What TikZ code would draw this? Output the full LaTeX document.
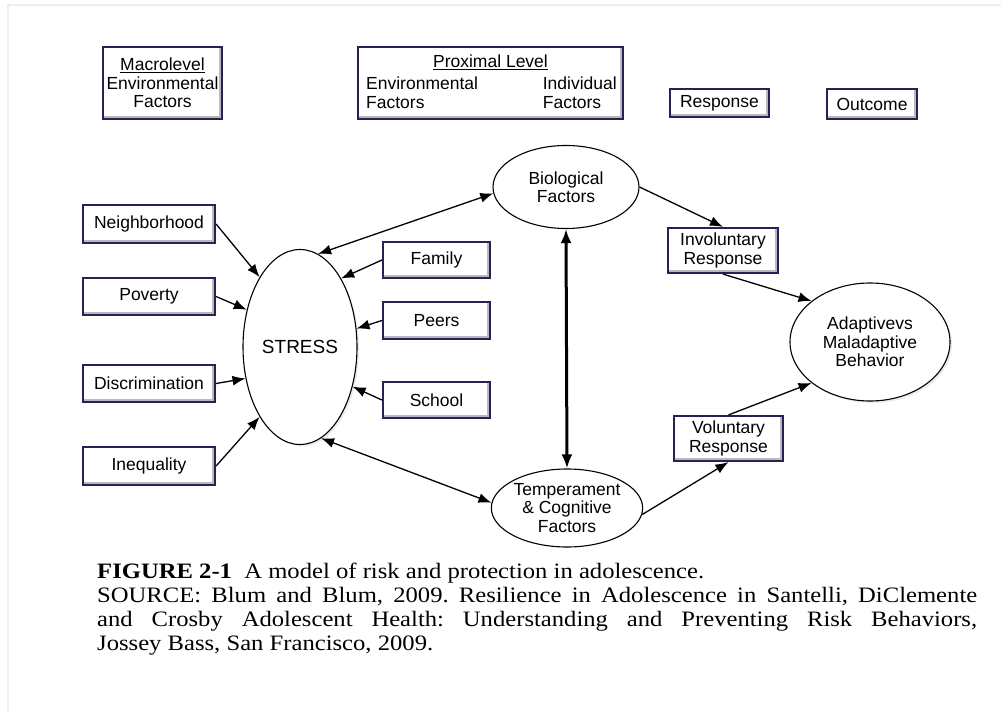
\documentclass[tikz,border=0pt]{standalone}
\usepackage{fontspec}
\setmainfont[FakeStretch=1.12]{Liberation Serif}
\newfontfamily\diagfont{Liberation Sans}
\usetikzlibrary{arrows.meta,shapes.geometric,shadows}

\definecolor{boxnavy}{RGB}{35,35,85}
\definecolor{bevelgray}{RGB}{185,185,185}
\definecolor{framegray}{RGB}{238,238,238}

\tikzset{
  boxtext/.style={inner sep=0pt, font=\diagfont\fontsize{17.5}{19.5}\selectfont},
  factorbox/.style={draw=boxnavy, line width=2.2pt, fill=white, inner sep=0pt, align=center,
    font=\diagfont\fontsize{17.5}{18.5}\selectfont,
    path picture={\draw[bevelgray, line width=6pt]
      (path picture bounding box.south west) -- (path picture bounding box.south east)
      -- (path picture bounding box.north east);}},
  factoroval/.style={ellipse, draw=black, line width=1.1pt, fill=white, inner sep=0pt, align=center,
    font=\diagfont\fontsize{17.5}{18.5}\selectfont},
  softshadow/.style={drop shadow={opacity=0.15, shadow xshift=2pt, shadow yshift=-2pt}},
  link/.style={line width=1.3pt, -{Latex[length=13pt,width=10pt]}},
  bilink/.style={line width=1.3pt, {Latex[length=13pt,width=10pt]}-{Latex[length=13pt,width=10pt]}},
  heavylink/.style={line width=3pt, {Latex[length=14pt,width=11pt]}-{Latex[length=14pt,width=11pt]}},
}

\begin{document}
\begin{tikzpicture}[x=1pt,y=-1pt]

  % Page size of the reference
  \useasboundingbox (0,0) rectangle (1001,711);

  % Faint frame along the top and left edge
  \draw[framegray, line width=1.5pt] (8,711) -- (8,5) -- (1001,5);

  % Column headings
  \node[factorbox, minimum width=119pt, minimum height=72pt] (macro) at (162.5,83)
    {\underline{Macrolevel}\\Environmental\\Factors};
  \node[factorbox, minimum width=265pt, minimum height=72pt] (proximal) at (490.5,83) {};
  \node[boxtext, anchor=base] (proxtitle) at (490.5,68) {\underline{Proximal Level}};
  \node[boxtext, anchor=base west, align=left] (proxenv) at (366,109) {Environmental\\Factors};
  \node[boxtext, anchor=base east, align=left] (proxind) at (617,109) {Individual\\Factors};
  \node[factorbox, minimum width=99pt, minimum height=28pt] (response) at (719.5,103) {Response};
  \node[factorbox, minimum width=90pt, minimum height=30pt] (outcome) at (872,104) {Outcome};

  % Macrolevel factors
  \node[factorbox, minimum width=132pt, minimum height=38pt] (neighborhood) at (149,224) {Neighborhood};
  \node[factorbox, minimum width=132pt, minimum height=37pt] (poverty) at (149,296.5) {Poverty};
  \node[factorbox, minimum width=132pt, minimum height=37pt] (discrimination) at (149,383.5) {Discrimination};
  \node[factorbox, minimum width=132pt, minimum height=38pt] (inequality) at (149,466) {Inequality};

  % Stress in the middle
  \node[factoroval, softshadow, minimum width=114pt, minimum height=195pt,
    font=\diagfont\fontsize{19}{21}\selectfont] (stress) at (300,347) {STRESS};

  % Proximal environmental factors
  \node[factorbox, minimum width=107pt, minimum height=36pt] (family) at (436.5,260) {Family};
  \node[factorbox, minimum width=107pt, minimum height=37pt] (peers) at (436.5,320.5) {Peers};
  \node[factorbox, minimum width=107pt, minimum height=36pt] (school) at (436.5,400) {School};

  % Individual factors
  \node[factoroval, minimum width=146pt, minimum height=83pt] (bio) at (566,187) {Biological\\Factors};
  \node[factoroval, minimum width=146pt, minimum height=78pt] (temper) at (567,508)
    {Temperament\\\& Cognitive\\Factors};

  % Responses and outcome
  \node[factorbox, minimum width=110pt, minimum height=45pt] (involuntary) at (723,250.5)
    {Involuntary\\Response};
  \node[factorbox, minimum width=109pt, minimum height=45pt] (voluntary) at (728.5,438.5)
    {Voluntary\\Response};
  \node[factoroval, softshadow, minimum width=160pt, minimum height=118pt] (adaptive) at (870,342)
    {Adaptivevs\\Maladaptive\\Behavior};

  % Arrows into stress
  \draw[link] (neighborhood.east) -- (stress.120);
  \draw[link] (poverty.east) -- (stress.145);
  \draw[link] (discrimination.east) -- (stress.210);
  \draw[link] (inequality.east) -- (stress.240);
  \draw[link] (family.west) -- (stress.59);
  \draw[link] (peers.west) -- (stress.18);
  \draw[link] (school.west) -- (stress.323);

  % Stress and the individual factors
  \draw[bilink] (stress.79) -- (bio.185);
  \draw[bilink] (stress.283) -- (temper.176);
  \draw[heavylink] (bio.south) -- (temper.north);

  % Responses
  \draw[link] (bio.east) -- (involuntary.north);
  \draw[link] (temper.355) -- (voluntary.south);
  \draw[link] (involuntary.south) -- (adaptive.145);
  \draw[link] (voluntary.north) -- (adaptive.215);

  % Caption
  \node[anchor=north west, text width=880pt, align=justify, inner sep=0pt,
    font=\frenchspacing\fontsize{22}{24}\selectfont] (caption) at (97,563)
    {\textbf{FIGURE 2-1}\ \ A model of risk and protection in adolescence.\\
     SOURCE: Blum and Blum, 2009. Resilience in Adolescence in Santelli, DiClemente\linebreak
     and Crosby Adolescent Health: Understanding and Preventing Risk Behaviors,\linebreak
     Jossey Bass, San Francisco, 2009.};

\end{tikzpicture}
\end{document}
